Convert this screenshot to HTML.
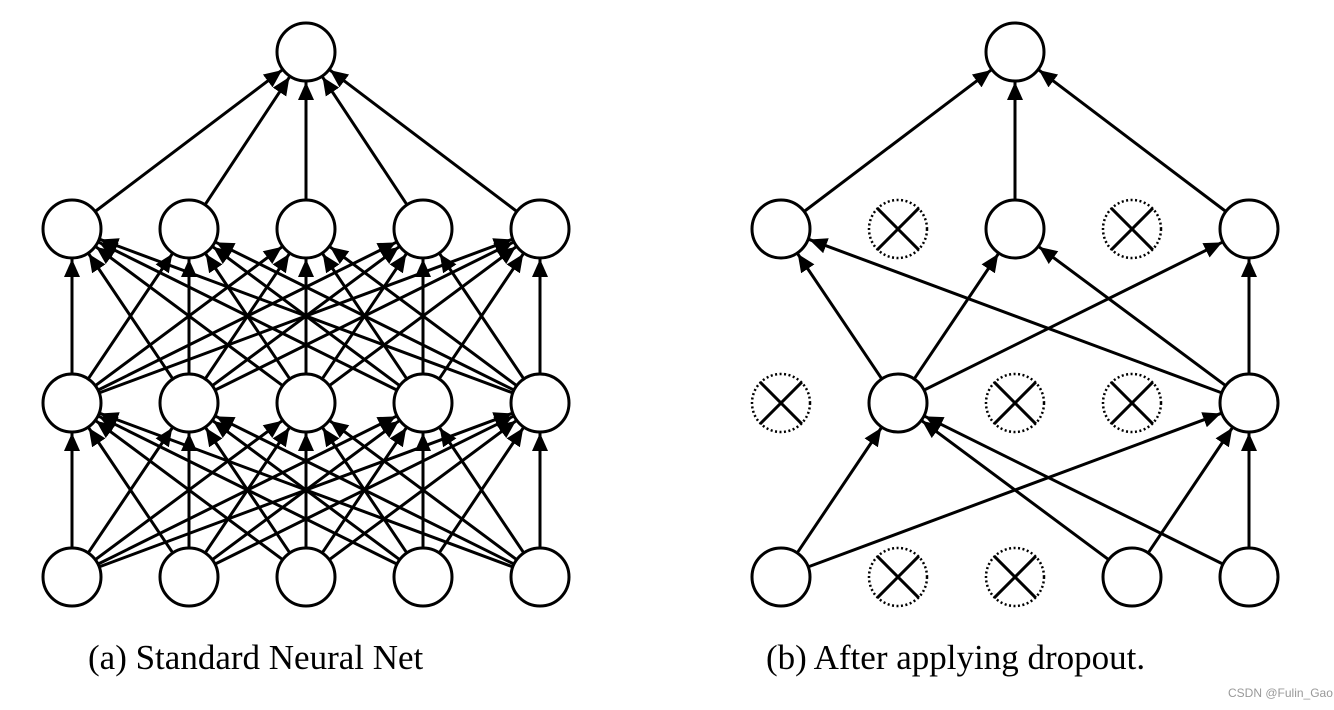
<!DOCTYPE html>
<html><head><meta charset="utf-8"><style>
html,body{margin:0;padding:0;background:#fff;width:1334px;height:710px;overflow:hidden}
svg{position:absolute;left:0;top:0}
.cap{position:absolute;font-family:"Liberation Serif",serif;font-size:35px;color:#000;white-space:nowrap}
.wm{position:absolute;font-family:"Liberation Sans",sans-serif;font-size:12px;color:#999;left:1228px;top:686px}
</style></head><body>
<svg id="s" width="1334" height="710" xmlns="http://www.w3.org/2000/svg">
<defs><marker id="a" markerUnits="userSpaceOnUse" markerWidth="20" markerHeight="16" refX="18" refY="8" orient="auto"><path d="M0,0 L18,8 L0,16 Z" fill="#000"/></marker></defs>
<g id="e" stroke="#000" stroke-width="3" fill="none"></g>
<g id="n" stroke="#000" stroke-width="3" fill="#fff"></g>
</svg>
<div class="cap" style="left:88px;top:638px">(a) Standard Neural Net</div>
<div class="cap" style="left:766px;top:638px">(b) After applying dropout.</div>
<div class="wm">CSDN @Fulin_Gao</div>
<script>
var R=29,NS="http://www.w3.org/2000/svg",E=document.getElementById('e'),N=document.getElementById('n');
var Y=[577,403,229,52];
function el(t,a,p){var x=document.createElementNS(NS,t);for(var k in a)x.setAttribute(k,a[k]);p.appendChild(x);return x}
function edge(x1,y1,x2,y2){var dx=x2-x1,dy=y2-y1,d=Math.hypot(dx,dy),ux=dx/d,uy=dy/d;
el('line',{x1:x1+ux*R,y1:y1+uy*R,x2:x2-ux*(R+1),y2:y2-uy*(R+1),'marker-end':'url(#a)'},E)}
function node(x,y){el('circle',{cx:x,cy:y,r:R},N)}
function drop(x,y){el('circle',{cx:x,cy:y,r:R,'stroke-dasharray':'2 2.5','stroke-width':2.5},N);
var o=R*0.72;el('line',{x1:x-o,y1:y-o,x2:x+o,y2:y+o},N);el('line',{x1:x-o,y1:y+o,x2:x+o,y2:y-o},N)}
var L=[72,189,306,423,540];
for(var l=0;l<2;l++)for(var i=0;i<5;i++)for(var j=0;j<5;j++)edge(L[i],Y[l],L[j],Y[l+1]);
for(var i=0;i<5;i++)edge(L[i],Y[2],306,Y[3]);
for(var l=0;l<3;l++)for(var i=0;i<5;i++)node(L[i],Y[l]);node(306,Y[3]);
var Rx=[781,898,1015,1132,1249];
var inA=[0,3,4],h1=[1,4],h2=[0,2,4];
[[0,1],[0,4],[3,1],[3,4],[4,1],[4,4]].forEach(function(p){edge(Rx[p[0]],Y[0],Rx[p[1]],Y[1])});
h1.forEach(function(i){h2.forEach(function(j){edge(Rx[i],Y[1],Rx[j],Y[2])})});
h2.forEach(function(i){edge(Rx[i],Y[2],1015,Y[3])});
for(var i=0;i<5;i++){inA.indexOf(i)>=0?node(Rx[i],Y[0]):drop(Rx[i],Y[0]);
h1.indexOf(i)>=0?node(Rx[i],Y[1]):drop(Rx[i],Y[1]);
h2.indexOf(i)>=0?node(Rx[i],Y[2]):drop(Rx[i],Y[2]);}
node(1015,Y[3]);
</script>
</body></html>
